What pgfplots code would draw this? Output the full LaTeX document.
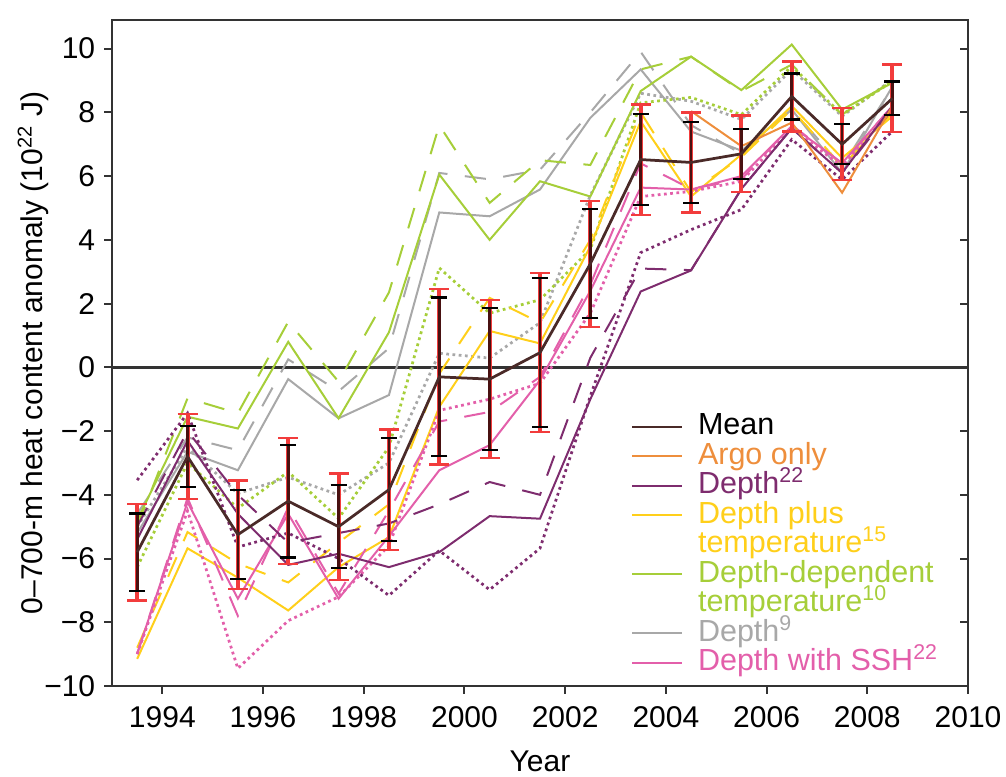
\documentclass[border=0pt]{standalone}
\usepackage{fontspec}
\setmainfont{Liberation Sans}
\usepackage{pgfplots}
\usepackage{pgfplotstable}
\pgfplotsset{compat=1.18}

\definecolor{axisc}{HTML}{333333}
\definecolor{meanc}{HTML}{4A2A28}
\definecolor{errred}{HTML}{F23C3C}
\definecolor{argoc}{HTML}{EE8E3C}
\definecolor{d22c}{HTML}{7E2C6E}
\definecolor{ytc}{HTML}{FFCF1A}
\definecolor{gtc}{HTML}{A6CE39}
\definecolor{d9c}{HTML}{A8A8A8}
\definecolor{sshc}{HTML}{E35FAA}

\tikzset{
  sdash/.style={dash pattern=on 8.5pt off 7pt},
  sdot/.style={line width=1.1pt, dash pattern=on 1.1pt off 1.4pt}
}

% columns: mean, black / red error half-widths, then the estimates
% d22 = Depth22, yt = depth plus temperature, g = depth-dependent temperature,
% k = Depth9, p = depth with SSH; s = solid, d = dashed, o = dotted
\pgfplotstableread{
year   mean  eb   er   d22s  d22d  d22o  yts   ytd   gs    gd    go    ks    kd    ko    ps    pd    po    argo
1993.5 -5.8  1.21 1.52 -5.4  -5.0  -3.54 -9.15 -8.8  -4.8  -5.0  -6.27 -5.2  -4.6  -5.0  -8.98 -9.0  -9.0  nan
1994.5 -2.8  0.95 1.33 -2.3  -2.0  -1.44 -5.68 -5.17 -1.55 -0.97 -3.0  -2.65 -2.2  -2.5  -4.23 -4.1  -4.5  nan
1995.5 -5.25 1.40 1.70 -4.6  -4.0  -5.64 -6.6  -6.16 -1.92 -1.44 -4.42 -3.23 -2.6  -3.96 -7.26 -7.8  -9.45 nan
1996.5 -4.2  1.77 1.98 -6.2  -5.5  -5.2  -7.63 -6.75 0.8   1.43  -3.28 -0.37 0.25  -3.45 -4.6  -4.4  -7.95 nan
1997.5 -5.0  1.30 1.67 -5.85 -5.2  -6.0  -6.27 -5.5  -1.6  -0.45 -4.74 -1.6  -0.75 -4.0  -7.26 -7.1  -7.2  nan
1998.5 -3.84 1.62 1.89 -6.27 -4.9  -7.16 -5.33 -4.3  1.1   2.35  -2.5  -0.87 0.6   -3.0  -5.3  -4.5  -5.6  nan
1999.5 -0.3  2.49 2.75 -5.8  -4.3  -5.75 -1.24 -0.2  6.05  7.6   3.12  4.86  6.1   0.44  -3.23 -1.7  -1.35 nan
2000.5 -0.37 2.23 2.48 -4.67 -3.6  -6.98 1.14  2.18  4.0   5.16  1.7   4.74  5.9   0.29  -2.44 -1.4  -1.0  nan
2001.5 0.46  2.34 2.50 -4.75 -4.0  -5.68 0.75  1.4   5.84  6.5   2.12  5.58  6.2   1.4   -0.4  -0.3  -0.5  nan
2002.5 3.25  1.71 1.98 -1.0  0.3   -0.9  3.8   4.0   5.36  6.35  3.7   7.83  8.0   5.4   2.4   2.6   1.7   nan
2003.5 6.52  1.43 1.73 2.38  3.1   3.6   7.72  8.0   8.67  9.35  8.3   9.35  9.9   8.6   5.64  6.4   5.36  nan
2004.5 6.43  1.27 1.57 3.04  3.05  4.32  5.36  5.5   9.75  9.75  8.47  7.4   7.6   8.35  5.58  5.6   5.52  8.04
2005.5 6.7   0.78 1.20 5.6   5.6   4.95  6.68  6.6   8.7   8.67  7.93  6.8   6.7   7.78  6.0   5.9   5.84  6.94
2006.5 8.5   0.72 1.10 7.5   7.5   7.15  8.2   8.1   10.13 9.5   9.45  8.09  8.1   9.35  7.57  7.6   7.5   7.68
2007.5 7.0   0.63 1.13 6.1   6.1   5.89  6.57  6.3   8.09  7.93  7.93  6.1   6.3   7.88  6.41  6.4   6.3   5.48
2008.5 8.44  0.53 1.06 8.2   8.1   7.41  7.88  8.0   8.93  9.0   8.98  8.82  8.8   9.03  8.2   8.2   8.1   8.2
}\hcdata

\begin{document}
\begin{tikzpicture}
\begin{axis}[
    name=main,
    scale only axis,
    width=342.4pt, height=266.4pt,
    xmin=1993, xmax=2010, ymin=-10, ymax=10.9,
    xtick={1994,1996,...,2010},
    ytick={-10,-8,...,10},
    yticklabels={−10,−8,−6,−4,−2,0,2,4,6,8,10},
    xticklabel style={/pgf/number format/1000 sep={}, yshift=-1.5pt},
    /pgf/number format/assume math mode=true,
    tick align=outside,
    xtick pos=left, ytick pos=left,
    major tick length=3.2pt,
    tick style={line width=0.8pt, color=axisc},
    axis line style={line width=1.1pt, color=axisc},
    font=\fontsize{12}{14}\selectfont,
    xlabel={Year},
    xlabel style={yshift=-2.5pt},
    ylabel={0–700-m heat content anomaly (10\textsuperscript{22} J)},
    ylabel style={at={(axis description cs:-0.092,0.5)}, anchor=center},
    extra y ticks={0}, extra y tick labels={},
    extra y tick style={grid=major, major grid style={color=axisc, line width=1pt}},
    every axis plot/.append style={line width=0.8pt},
    legend image code/.code={\draw[#1] (0pt,0pt) -- (20pt,0pt);},
    legend style={draw=none, fill=none, at={(0.597,0.42)}, anchor=north west,
        row sep=0pt, font=\fontsize{12.2}{14}\selectfont,
        nodes={inner ysep=0.3pt, text height=8.8pt, text depth=2.4pt},
        cells={anchor=west},
        /tikz/every odd column/.append style={column sep=4pt}},
]
% Depth9
\addplot[d9c, forget plot] table[x=year, y=ks] {\hcdata};
\addplot[d9c, sdash, forget plot] table[x=year, y=kd] {\hcdata};
\addplot[d9c, sdot, forget plot] table[x=year, y=ko] {\hcdata};
% depth-dependent temperature
\addplot[gtc, forget plot] table[x=year, y=gs] {\hcdata};
\addplot[gtc, sdash, forget plot] table[x=year, y=gd] {\hcdata};
\addplot[gtc, sdot, forget plot] table[x=year, y=go] {\hcdata};
% depth plus temperature
\addplot[ytc, forget plot] table[x=year, y=yts] {\hcdata};
\addplot[ytc, sdash, forget plot] table[x=year, y=ytd] {\hcdata};
% depth with SSH
\addplot[sshc, forget plot] table[x=year, y=ps] {\hcdata};
\addplot[sshc, sdash, forget plot] table[x=year, y=pd] {\hcdata};
\addplot[sshc, sdot, forget plot] table[x=year, y=po] {\hcdata};
% Depth22
\addplot[d22c, forget plot] table[x=year, y=d22s] {\hcdata};
\addplot[d22c, sdash, forget plot] table[x=year, y=d22d] {\hcdata};
\addplot[d22c, sdot, forget plot] table[x=year, y=d22o] {\hcdata};
% Argo only
\addplot[argoc, forget plot] table[x=year, y=argo] {\hcdata};

% error bars of the mean: red (outer) then black (inner)
\addplot[draw=none, mark=none, forget plot,
    error bars/.cd, y dir=both, y explicit,
    error bar style={draw=errred, line width=1.6pt},
    error mark options={draw=errred, rotate=90, mark size=4pt, line width=0.9pt}]
    table[x=year, y=mean, y error=er] {\hcdata};
\addplot[draw=none, mark=none, forget plot,
    error bars/.cd, y dir=both, y explicit,
    error bar style={draw=black, line width=1.1pt, draw opacity=0.7},
    error mark options={draw=black, rotate=90, mark size=3.2pt, line width=0.9pt, draw opacity=1}]
    table[x=year, y=mean, y error=eb] {\hcdata};
\addplot[meanc, line width=1.1pt, forget plot] table[x=year, y=mean] {\hcdata};

\addlegendimage{meanc}
\addlegendentry{\textcolor{black}{Mean}}
\addlegendimage{argoc}
\addlegendentry{\textcolor{argoc}{Argo only}}
\addlegendimage{d22c}
\addlegendentry{\textcolor{d22c}{Depth\textsuperscript{22}}}
\addlegendimage{ytc}
\addlegendentry{\textcolor{ytc}{Depth plus}}
\addlegendimage{empty legend}
\addlegendentry{\textcolor{ytc}{temperature\textsuperscript{15}}}
\addlegendimage{gtc}
\addlegendentry{\textcolor{gtc}{Depth-dependent}}
\addlegendimage{empty legend}
\addlegendentry{\textcolor{gtc}{temperature\textsuperscript{10}}}
\addlegendimage{d9c}
\addlegendentry{\textcolor{d9c}{Depth\textsuperscript{9}}}
\addlegendimage{sshc}
\addlegendentry{\textcolor{sshc}{Depth with SSH\textsuperscript{22}}}
\end{axis}

% inward ticks on the right-hand side
\begin{axis}[
    at={(main.south west)}, anchor=south west,
    scale only axis,
    width=342.4pt, height=266.4pt,
    xmin=1993, xmax=2010, ymin=-10, ymax=10.9,
    axis x line=none, axis y line*=right,
    ytick={-10,-8,...,10}, yticklabels={},
    tick align=inside, major tick length=3.2pt,
    tick style={line width=0.8pt, color=axisc},
    axis line style={draw=none},
]
\end{axis}

\pgfresetboundingbox
\path[use as bounding box] ([shift={(-44.8pt,-36.4pt)}]main.south west)
    rectangle ([shift={(15.2pt,8pt)}]main.north east);
\end{tikzpicture}
\end{document}
